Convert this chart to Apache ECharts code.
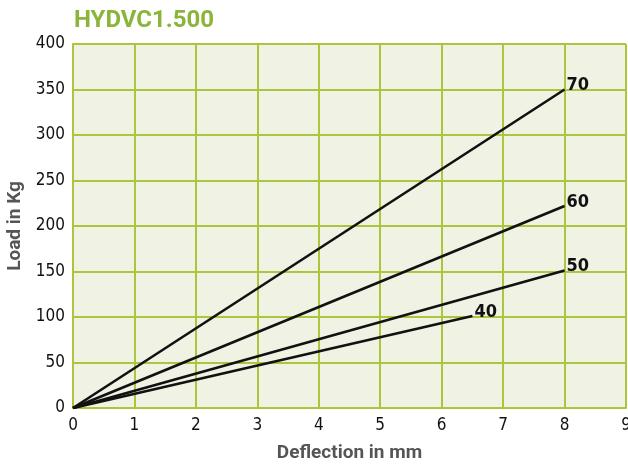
<!DOCTYPE html>
<html>
<head>
<meta charset="utf-8">
<script src="https://cdn.jsdelivr.net/npm/echarts@6/dist/echarts.min.js"></script>
<style>html,body{margin:0;padding:0;background:#fff}#main{width:628px;height:467px}</style>
</head>
<body>
<div id="main"></div>
<script>
// curve names (shown at line ends)
var curveNames = ['70', '60', '50', '40'];
// deflection (mm) / load (kg) points for each curve
var curve70 = [[0, 0], [8, 350]];
var curve60 = [[0, 0], [8, 222]];
var curve50 = [[0, 0], [8, 151]];
var curve40 = [[0, 0], [6.5, 101]];

var chart = echarts.init(document.getElementById('main'));

var gridGreen = '#a9c63c';
var labelFont = '"DejaVu Sans Condensed", "Liberation Sans Narrow", sans-serif';

function makeSeries(name, data) {
  return {
    name: name,
    type: 'line',
    data: data,
    symbol: 'none',
    lineStyle: { color: '#111', width: 2.6 },
    endLabel: {
      show: true,
      formatter: '{a}',
      color: '#111',
      fontWeight: 'bold',
      fontSize: 18,
      fontFamily: labelFont,
      distance: 2,
      offset: [0, -4]
    },
    z: 3
  };
}

chart.setOption({
  animation: false,
  title: {
    text: 'HYDVC1.500',
    left: 69,
    top: 4,
    textStyle: { color: '#8cb43a', fontSize: 24, fontWeight: 'bold', fontFamily: 'Roboto, sans-serif' }
  },
  grid: {
    left: 73, right: 2, top: 44, bottom: 59,
    outerBoundsMode: 'none',
    backgroundColor: '#f0f2e3', show: true, borderWidth: 0
  },
  xAxis: {
    type: 'value',
    min: 0, max: 9, interval: 1,
    name: 'Deflection in mm',
    nameLocation: 'middle',
    nameGap: 36,
    nameTextStyle: { color: '#555', fontSize: 19, fontWeight: 'bold', fontFamily: 'Roboto, sans-serif' },
    axisLine: { show: true, lineStyle: { color: gridGreen, width: 2 } },
    axisTick: { show: false },
    axisLabel: { color: '#111', fontSize: 17, fontFamily: labelFont, margin: 9 },
    splitLine: { show: true, lineStyle: { color: gridGreen, width: 2 } }
  },
  yAxis: {
    type: 'value',
    min: 0, max: 400, interval: 50,
    name: 'Load in Kg',
    nameLocation: 'middle',
    nameGap: 47,
    nameRotate: 90,
    nameTextStyle: { color: '#555', fontSize: 19, fontWeight: 'bold', fontFamily: 'Roboto, sans-serif' },
    axisLine: { show: true, lineStyle: { color: gridGreen, width: 2 } },
    axisTick: { show: false },
    axisLabel: { color: '#111', fontSize: 17, fontFamily: labelFont, margin: 8 },
    splitLine: { show: true, lineStyle: { color: gridGreen, width: 2 } }
  },
  series: [
    makeSeries(curveNames[0], curve70),
    makeSeries(curveNames[1], curve60),
    makeSeries(curveNames[2], curve50),
    makeSeries(curveNames[3], curve40)
  ]
});
</script>
</body>
</html>
